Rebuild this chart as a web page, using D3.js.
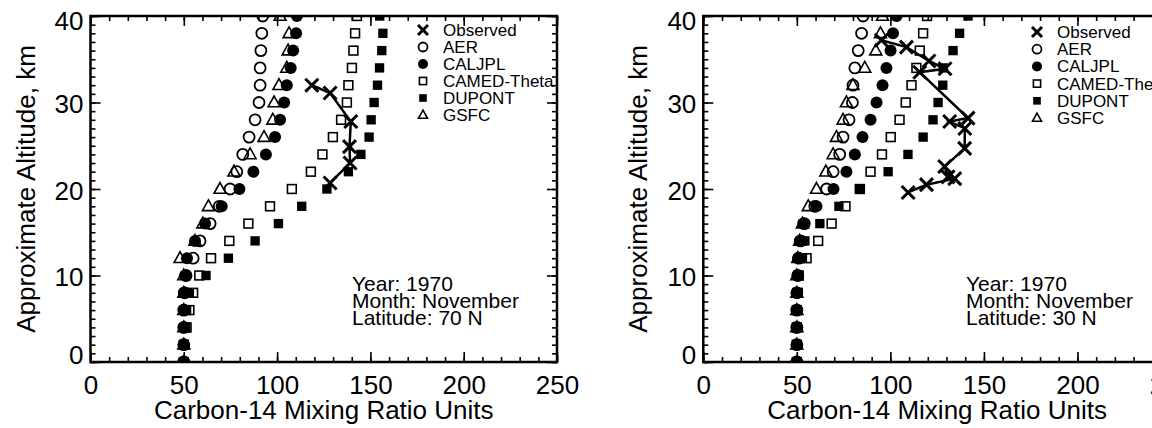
<!DOCTYPE html>
<html lang="en">
<head>
<meta charset="utf-8">
<title>Carbon-14 mixing ratio profiles</title>
<script src="https://cdn.jsdelivr.net/npm/d3@7"></script>
<style>
  body { margin:0; background:#fff; }
  svg { display:block; font-family:"Liberation Sans", Arial, sans-serif; }
  .frame { fill:none; stroke:#000; stroke-width:2.5; }
  .axis path { display:none; }
  .axis line { stroke:#000; stroke-width:1.6; }
  .axis text { font-size:26px; fill:#000; font-family:"Liberation Sans", Arial, sans-serif; }
  .title { font-size:26px; fill:#000; }
  .note { font-size:21px; fill:#000; }
  .legend text { font-size:17px; fill:#000; }
  .obsLine { fill:none; stroke:#000; stroke-width:2.5; }
</style>
</head>
<body>
<script>
// altitude levels (km) for the model profiles
var altitudes = [0, 2, 4, 6, 8, 10, 12, 14, 16, 18, 20, 22, 24, 26, 28, 30, 32, 34, 36, 38, 40];

// Latitude 70 N
var aer70    = [50, 50, 50, 50, 50.5, 51.2, 55, 58.7, 64.1, 69, 74.8, 78.4, 81.6, 85, 88.2, 90.3, 90.9, 90.9, 91.3, 91.8, 92.3];
var caljpl70 = [50, 50, 50, 50, 50, 50.7, 51.7, 56, 61.4, 70.3, 79.8, 87.3, 94, 98.9, 101.6, 103.8, 105.2, 107.3, 108.6, 110.2, 110.6];
var camed70  = [50, 50, 51.5, 53, 55, 58.3, 64.6, 74.4, 84.6, 96.2, 107.9, 118.1, 124.3, 129.9, 134.3, 137.4, 138.2, 140.1, 140.9, 141.8, 142.8];
var dupont70 = [50, 50, 51, 51.5, 53, 61.9, 73.9, 88.2, 100.7, 113.2, 126.7, 138.2, 144.9, 149.3, 150.4, 152, 153.8, 154.9, 156.1, 156.7, 155];
var gsfc70   = [50, 50, 50, 50, 50, 50, 48, 56, 60.2, 63.2, 69.4, 76.9, 85.5, 93, 97.7, 98.4, 101, 105.2, 105.9, 106.4, 101.6];
var obs70Value = [118.6, 128.4, 139.5, 138.8, 139.1, 128.4];
var obs70Alt   = [32.0, 31.1, 27.8, 24.9, 23.0, 20.7];

// Latitude 30 N
var aer30    = [50, 50, 50, 50, 50, 50.5, 51, 52, 54, 59.6, 65.9, 69.4, 72.9, 74.7, 77.9, 79.7, 80, 81, 82.8, 84.6, 85.4];
var caljpl30 = [50, 50, 50, 50, 50, 50.5, 50.7, 51.6, 53.4, 60.5, 69.6, 76.5, 81, 85.1, 89.4, 92.6, 95.8, 97.9, 100.1, 101.4, 103.3];
var camed30  = [50, 50, 50, 50, 50.5, 51, 55.2, 61.4, 68.6, 76, 83.7, 89.4, 95.5, 100.2, 104.9, 108.2, 111.3, 113.9, 115.7, 117.5, 119.6];
var dupont30 = [50, 50, 50, 50, 50, 50.5, 53, 54.3, 62.3, 72.5, 83.5, 98.8, 109.4, 117.5, 122.8, 125.5, 128, 128.2, 133.5, 137, 141.5];
var gsfc30   = [50, 50, 50, 50, 50, 50, 50.5, 51.5, 53, 56.1, 60.5, 65.5, 69.4, 71.2, 74.7, 76.5, 80, 86.3, 92.2, 94.7, 95.8];
var obs30Value = [95.2, 108.6, 120.6, 129.2, 115.7, 141.5, 131.7, 139.8, 139.7, 129, 130.8, 134.4, 119.3, 109.5];
var obs30Alt   = [37.2, 36.4, 34.8, 33.9, 33.5, 28.2, 27.8, 27.0, 24.7, 22.6, 21.4, 21.2, 20.5, 19.6];

var xTicks = [0, 50, 100, 150, 200, 250];
var yTicks = [0, 10, 20, 30, 40];
var legendNames = ["Observed", "AER", "CALJPL", "CAMED-Theta", "DUPONT", "GSFC"];
var legendSymbols = ["x", "circle", "disc", "box", "square", "triangle"];
var notes70 = ["Year: 1970", "Month: November", "Latitude: 70 N"];
var notes30 = ["Year: 1970", "Month: November", "Latitude: 30 N"];

var w = 1152, h = 428;
var plotTop = 16, plotBottom = 362;

var svg = d3.select("body").append("svg")
            .attr("width", w)
            .attr("height", h);

function marker(g, type, x, y, s) {
  var r = s / 2;
  if (type == "x") {
    g.append("path")
     .attr("d", "M" + (x - r) + "," + (y - r) + "L" + (x + r) + "," + (y + r) +
                "M" + (x - r) + "," + (y + r) + "L" + (x + r) + "," + (y - r))
     .attr("stroke", "#000").attr("stroke-width", 3);
  } else if (type == "circle") {
    g.append("circle").attr("cx", x).attr("cy", y).attr("r", r)
     .attr("fill", "none").attr("stroke", "#000").attr("stroke-width", 1.8);
  } else if (type == "disc") {
    g.append("circle").attr("cx", x).attr("cy", y).attr("r", r + 0.5).attr("fill", "#000");
  } else if (type == "box") {
    g.append("rect").attr("x", x - r * 0.8).attr("y", y - r * 0.8)
     .attr("width", s * 0.8).attr("height", s * 0.8)
     .attr("fill", "none").attr("stroke", "#000").attr("stroke-width", 1.6);
  } else if (type == "square") {
    g.append("rect").attr("x", x - r * 0.85).attr("y", y - r * 0.85)
     .attr("width", s * 0.85).attr("height", s * 0.85).attr("fill", "#000");
  } else if (type == "triangle") {
    var th = s * 0.9;
    g.append("path")
     .attr("d", "M" + x + "," + (y - th * 0.6) + "L" + (x + r) + "," + (y + th * 0.4) +
                "L" + (x - r) + "," + (y + th * 0.4) + "Z")
     .attr("fill", "none").attr("stroke", "#000").attr("stroke-width", 1.6);
  }
}

function drawPanel(p) {
  var xScale = d3.scaleLinear().domain([0, 250]).range([p.left, p.right]);
  var yScale = d3.scaleLinear().domain([0, 40]).range([plotBottom, plotTop]);
  var g = svg.append("g");

  var clipId = "clip" + p.id;
  svg.append("clipPath").attr("id", clipId)
     .append("rect")
     .attr("x", p.left).attr("y", plotTop)
     .attr("width", p.right - p.left).attr("height", plotBottom - plotTop);

  // ticks, all pointing inwards
  var xMinor = d3.range(0, 251, 10);
  var yMinor = d3.range(0, 41, 1);

  g.append("g").attr("class", "axis")
   .attr("transform", "translate(0," + plotBottom + ")")
   .call(d3.axisBottom(xScale).tickValues(xMinor).tickSize(-5).tickFormat(""));
  g.append("g").attr("class", "axis")
   .attr("transform", "translate(0," + plotBottom + ")")
   .call(d3.axisBottom(xScale).tickValues(xTicks).tickSize(-10).tickPadding(14));
  g.append("g").attr("class", "axis")
   .attr("transform", "translate(0," + plotTop + ")")
   .call(d3.axisTop(xScale).tickValues(xMinor).tickSize(-5).tickFormat(""));
  g.append("g").attr("class", "axis")
   .attr("transform", "translate(0," + plotTop + ")")
   .call(d3.axisTop(xScale).tickValues(xTicks).tickSize(-10).tickFormat(""));

  g.append("g").attr("class", "axis")
   .attr("transform", "translate(" + p.left + ",0)")
   .call(d3.axisLeft(yScale).tickValues(yMinor).tickSize(-5).tickFormat(""));
  var yAxis = g.append("g").attr("class", "axis")
   .attr("transform", "translate(" + p.left + ",0)")
   .call(d3.axisLeft(yScale).tickValues(yTicks).tickSize(-10).tickPadding(7));
  yAxis.selectAll("text").attr("dy", function(d) {
    if (d == 0) return "0.05em";
    if (d == 40) return "0.5em";
    return "0.4em";
  });
  g.append("g").attr("class", "axis")
   .attr("transform", "translate(" + p.right + ",0)")
   .call(d3.axisRight(yScale).tickValues(yMinor).tickSize(-5).tickFormat(""));
  g.append("g").attr("class", "axis")
   .attr("transform", "translate(" + p.right + ",0)")
   .call(d3.axisRight(yScale).tickValues(yTicks).tickSize(-10).tickFormat(""));

  // model profiles
  var marks = g.append("g").attr("clip-path", "url(#" + clipId + ")");
  p.models.forEach(function(m) {
    m.values.forEach(function(v, i) {
      marker(marks, m.symbol, xScale(v), yScale(altitudes[i]), m.size);
    });
  });

  // observed profile
  var obs = p.obsValue.map(function(v, i) { return {v: v, a: p.obsAlt[i]}; });
  var line = d3.line()
               .x(function(d) { return xScale(d.v); })
               .y(function(d) { return yScale(d.a); });
  marks.append("path").datum(obs).attr("class", "obsLine").attr("d", line);
  obs.forEach(function(d) { marker(marks, "x", xScale(d.v), yScale(d.a), 13); });

  g.append("rect").attr("class", "frame")
   .attr("x", p.left).attr("y", plotTop)
   .attr("width", p.right - p.left).attr("height", plotBottom - plotTop);

  // legend
  var leg = g.append("g").attr("class", "legend");
  legendNames.forEach(function(name, i) {
    var yy = p.legendY + i * p.legendStep;
    var sz = legendSymbols[i] == "x" ? 10 : 9;
    marker(leg, legendSymbols[i], p.legendX, yy, sz);
    leg.append("text").attr("x", p.legendX + 20).attr("y", yy + 6).text(name);
  });

  // notes
  p.notes.forEach(function(t, i) {
    g.append("text").attr("class", "note")
     .attr("x", p.noteX).attr("y", 291 + i * 16.8).text(t);
  });

  // axis titles
  g.append("text").attr("class", "title")
   .attr("x", (p.left + p.right) / 2).attr("y", 419)
   .attr("text-anchor", "middle")
   .text("Carbon-14 Mixing Ratio Units");
  g.append("text").attr("class", "title")
   .attr("transform", "translate(" + (p.left - 56) + "," + ((plotTop + plotBottom) / 2) + ") rotate(-90)")
   .attr("text-anchor", "middle")
   .text("Approximate Altitude, km");
}

drawPanel({
  id: 70, left: 90.5, right: 557,
  models: [
    {values: aer70, symbol: "circle", size: 11},
    {values: gsfc70, symbol: "triangle", size: 12},
    {values: caljpl70, symbol: "disc", size: 11},
    {values: camed70, symbol: "box", size: 11},
    {values: dupont70, symbol: "square", size: 11}
  ],
  obsValue: obs70Value, obsAlt: obs70Alt,
  legendX: 423, legendY: 30, legendStep: 17,
  notes: notes70, noteX: 352
});

drawPanel({
  id: 30, left: 703.3, right: 1171,
  models: [
    {values: aer30, symbol: "circle", size: 11},
    {values: gsfc30, symbol: "triangle", size: 12},
    {values: caljpl30, symbol: "disc", size: 11},
    {values: camed30, symbol: "box", size: 11},
    {values: dupont30, symbol: "square", size: 11}
  ],
  obsValue: obs30Value, obsAlt: obs30Alt,
  legendX: 1037, legendY: 32, legendStep: 17.2,
  notes: notes30, noteX: 966
});
</script>
</body>
</html>
